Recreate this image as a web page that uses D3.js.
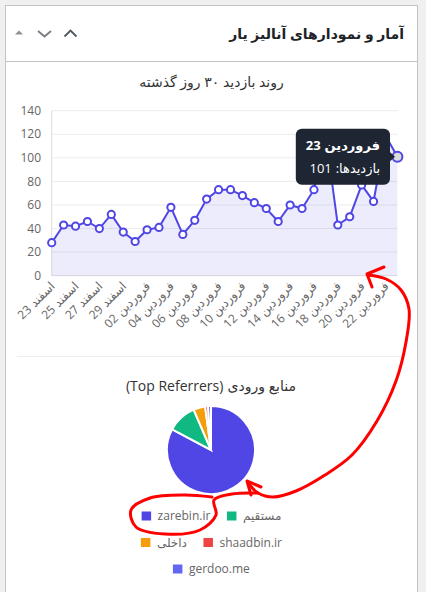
<!DOCTYPE html>
<html><head><meta charset="utf-8">
<script src="https://cdn.jsdelivr.net/npm/d3@7"></script>
<style>
html,body{margin:0;padding:0;background:#f0f0f1;}
svg{display:block;}
text{font-family:"Open Sans","DejaVu Sans",sans-serif;}
</style></head><body>
<svg id="c" width="426" height="592"></svg>
<script>
// ---------- data ----------
const boxTitle = "آمار و نمودارهای آنالیز یار";
const lineTitle = "روند بازدید ۳۰ روز گذشته";
const pieTitleFa = "منابع ورودی";
const pieTitleEn = "(Top Referrers)";
const seriesName = "بازدیدها";
const dates = ["اسفند 23","اسفند 24","اسفند 25","اسفند 26","اسفند 27","اسفند 28","اسفند 29",
  "فروردین 01","فروردین 02","فروردین 03","فروردین 04","فروردین 05","فروردین 06","فروردین 07",
  "فروردین 08","فروردین 09","فروردین 10","فروردین 11","فروردین 12","فروردین 13","فروردین 14",
  "فروردین 15","فروردین 16","فروردین 17","فروردین 18","فروردین 19","فروردین 20","فروردین 21",
  "فروردین 22","فروردین 23"];
const visits = [28,43,42,46,40,52,37,29,39,41,58,35,47,65,73,73,68,62,57,46,60,57,73,118,43,50,77,63,119,101];
const yTicks = [0,20,40,60,80,100,120,140];
const hoverIndex = 29;
const referrers = ["zarebin.ir","مستقیم","داخلی","shaadbin.ir","gerdoo.me"];
const referrerCounts = [77,10,4,1,1];
const referrerColors = ["#4f46e5","#10b981","#f59e0b","#ef4444","#6366f1"];

// ---------- helpers ----------
// draws text pieces in the given visual left-to-right order (RTL-context look)
function pieces(parent, list, ax, anchor, yy, size, fill, weight){
  const gap = size*0.3;
  const items = list.map(s=>{
    if (s === " ") return {space:true, w:gap};
    const t = parent.append("text").attr("x",0).attr("y",yy).attr("dy","0.35em")
      .attr("font-size",size).attr("fill",fill).attr("font-weight",weight||400).text(s);
    const bb = t.node().getBBox();
    return {t, bx:bb.x, w:bb.width};
  });
  const total = d3.sum(items,i=>i.w);
  let cx = anchor==="end" ? ax-total : anchor==="middle" ? ax-total/2 : ax;
  items.forEach(i=>{ if(!i.space) i.t.attr("x", cx - i.bx); cx += i.w; });
  return total;
}
function dateParts(d){ const p = d.split(" "); return [p[1]," ",p[0]]; }

// ---------- layout ----------
const W = 426, H = 592;
const lineColor = "#4f46e5";
const svg = d3.select("#c");
svg.append("rect").attr("width",W).attr("height",H).attr("fill","#f0f0f1");
svg.append("rect").attr("x",5.5).attr("y",5.5).attr("width",412).attr("height",620)
  .attr("fill","#fff").attr("stroke","#c3c4c7");
svg.append("line").attr("x1",6).attr("x2",417).attr("y1",61.5).attr("y2",61.5).attr("stroke","#c3c4c7");

// header
svg.append("text").attr("x",404).attr("y",34).attr("dy","0.35em").attr("text-anchor","end")
  .attr("font-size",14).attr("font-weight",600).attr("fill","#1d2327").text(boxTitle);
svg.append("path").attr("d","M15,34.5L19,30.5L23,34.5Z").attr("fill","#8c8f94");
svg.append("path").attr("d","M38,31L44.5,36.5L51,31").attr("fill","none").attr("stroke","#787c82").attr("stroke-width",1.8);
svg.append("path").attr("d","M64.5,36.5L70.5,30.5L76.5,36.5").attr("fill","none").attr("stroke","#50575e").attr("stroke-width",1.8);

// ---------- line chart ----------
svg.append("text").attr("x",211.5).attr("y",82.5).attr("dy","0.35em").attr("text-anchor","middle")
  .attr("font-size",14).attr("fill","#333").text(lineTitle);

const x = d3.scalePoint().domain(dates).range([51.7,397.4]);
const y = d3.scaleLinear().domain([0,140]).range([275.7,110.7]);

const g = svg.append("g");
g.selectAll("line.grid").data(yTicks).join("line").attr("class","grid")
  .attr("x1",51.7).attr("x2",397.4).attr("y1",d=>y(d)).attr("y2",d=>y(d))
  .attr("stroke", d=> d===0 ? "#dddddd" : "#ececec").attr("stroke-width",1);
g.append("line").attr("x1",51.7).attr("x2",51.7).attr("y1",y(140)).attr("y2",y(0)).attr("stroke","#dddddd");
g.selectAll("text.yl").data(yTicks).join("text").attr("class","yl")
  .attr("x",41).attr("y",d=>y(d)).attr("dy","0.35em").attr("text-anchor","end")
  .attr("font-size",12).attr("fill","#666").text(d=>d);
dates.filter((d,i)=>i%2===0).forEach(d=>{
  const lg = g.append("g").attr("transform",`translate(${x(d)+1},284) rotate(-45)`);
  pieces(lg, dateParts(d), 0, "end", 0, 12, "#666");
});

const pts = dates.map((d,i)=>({d, v:visits[i], i}));
g.append("path").datum(pts)
  .attr("d", d3.area().x(p=>x(p.d)).y0(y(0)).y1(p=>y(p.v)))
  .attr("fill","rgba(79,70,229,0.1)");
g.append("path").datum(pts)
  .attr("d", d3.line().x(p=>x(p.d)).y(p=>y(p.v)))
  .attr("fill","none").attr("stroke",lineColor).attr("stroke-width",2);
g.selectAll("circle.pt").data(pts).join("circle").attr("class","pt")
  .attr("cx",p=>x(p.d)).attr("cy",p=>y(p.v))
  .attr("r",p=>p.i===hoverIndex?5:3.6)
  .attr("fill",p=>p.i===hoverIndex?"#dcdcdc":"#fff")
  .attr("stroke",lineColor).attr("stroke-width",2);

// tooltip
(function(){
  const hp = pts[hoverIndex];
  const px = x(hp.d), py = y(hp.v);
  const tg = svg.append("g");
  const rect = tg.append("rect").attr("rx",6).attr("fill","#1e2533");
  const caret = tg.append("path").attr("fill","#1e2533");
  const right = px - 7.4, h = 56, top = py - 28;
  const w1 = pieces(tg, dateParts(hp.d), right-10, "end", top+17, 13, "#fff", 700);
  const w2 = pieces(tg, [String(hp.v)," ",":",seriesName], right-10, "end", top+39.5, 13, "#fff", 400);
  const w = Math.max(w1,w2) + 20;
  rect.attr("x",right-w).attr("y",top).attr("width",w).attr("height",h);
  caret.attr("d",`M${right-0.5},${py-5}L${right+5},${py}L${right-0.5},${py+5}Z`);
  // left-align both lines like the reference
  const texts = tg.selectAll("text").nodes();
})();

svg.append("line").attr("x1",17).attr("x2",405).attr("y1",356.5).attr("y2",356.5).attr("stroke","#eeeeee");

// ---------- pie ----------
pieces(svg, [pieTitleEn," ",pieTitleFa], 211, "middle", 386, 14, "#333");
const pieData = d3.pie().sort(null).value(d=>d)(referrerCounts);
const arc = d3.arc().innerRadius(0).outerRadius(44);
svg.append("g").attr("transform","translate(211,450)")
  .selectAll("path").data(pieData).join("path")
  .attr("d",arc).attr("fill",(d,i)=>referrerColors[i])
  .attr("stroke","#fff").attr("stroke-width",2);

// legend
(function(){
  const lg = svg.append("g");
  const items = referrers.map((r,i)=>{
    const t = lg.append("text").attr("x",0).attr("font-size",12).attr("fill","#666").text(r);
    const bb = t.node().getBBox();
    return {r,i,t,w:bb.width,bx:bb.x};
  });
  const boxW = 9.5, gapT = 6.5, gapI = 16.5, maxW = 155;
  const rows = []; let cur = [], curW = 0;
  items.forEach(it=>{
    const iw = boxW+gapT+it.w;
    const nw = cur.length ? curW+gapI+iw : iw;
    if (cur.length && nw > maxW){ rows.push({items:cur,w:curW}); cur=[it]; curW=iw; }
    else { cur.push(it); curW=nw; }
  });
  rows.push({items:cur,w:curW});
  rows.forEach((row,ri)=>{
    let cx = 211.5 - row.w/2;
    const cy = 516 + ri*26.5;
    row.items.forEach(it=>{
      lg.append("rect").attr("x",cx).attr("y",cy-4.5).attr("width",boxW).attr("height",9)
        .attr("fill",referrerColors[it.i]);
      it.t.attr("x",cx+boxW+gapT-it.bx).attr("y",cy).attr("dy","0.35em");
      cx += boxW+gapT+it.w+gapI;
    });
  });
})();

// ---------- hand-drawn annotation ----------
const annoCurve = [[249,484],[258,493],[273,497],[296,491],[325,475],[352,455],[377,421],[396,381],[406,342],[409,309],[401,290],[386,279],[368,275]];
const anno = svg.append("g").attr("fill","none").attr("stroke","#f00").attr("stroke-width",3)
  .attr("stroke-linecap","round").attr("stroke-linejoin","round");
anno.append("path").attr("d", d3.line().curve(d3.curveCatmullRom)(annoCurve));
anno.append("path").attr("d","M384,267L367,274L372,287");
anno.append("path").attr("d","M261,487L247,481L251,495");
anno.append("path").attr("d", d3.line().curve(d3.curveCatmullRom)(
  [[212,497],[185,495],[150,498],[131,510],[136,527],[165,534],[200,530],[216,515],[214,500],[232,494],[258,493]]));
</script>
</body></html>
